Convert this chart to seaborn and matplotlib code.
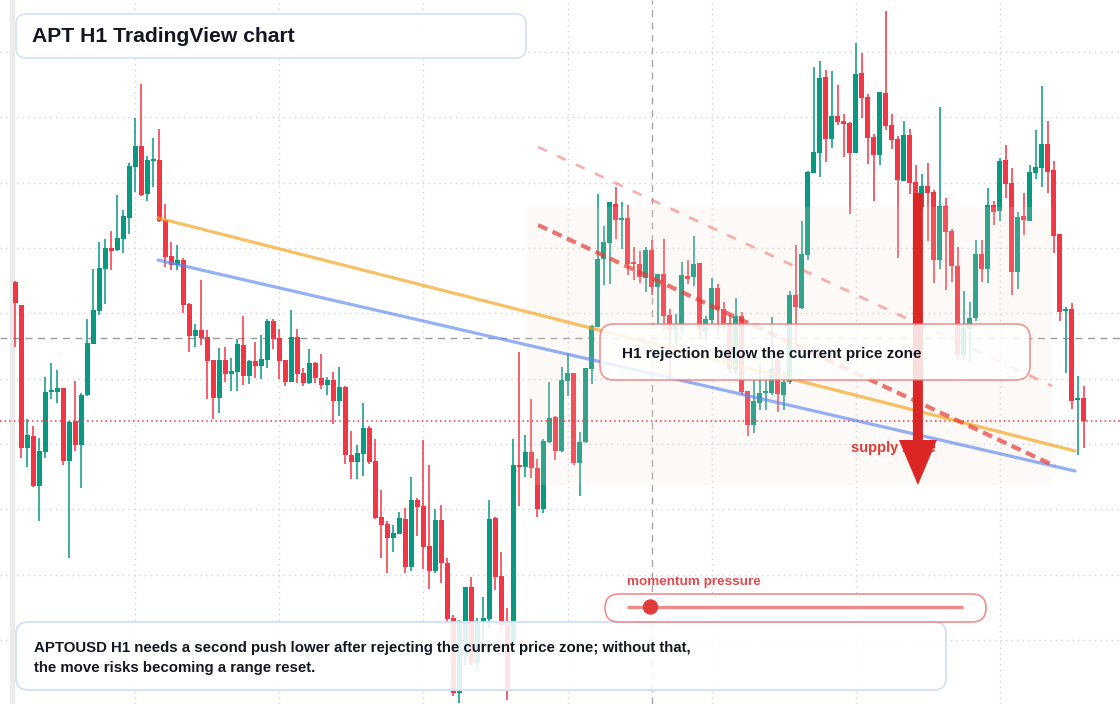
import numpy as np
import pandas as pd
import matplotlib
matplotlib.use("Agg")
import matplotlib.pyplot as plt
import seaborn as sns
from matplotlib.patches import FancyBboxPatch, FancyArrow, Rectangle, Circle

## APTOUSD hourly candles
opens = [5.18, 4.95, 3.52, 3.64, 3.14, 3.48, 4.08, 4.08, 4.12, 3.39,
         3.79, 3.55, 4.05, 4.56, 4.89, 5.31, 5.52, 5.50, 5.61, 5.82,
         6.33, 6.54, 6.06, 6.39, 6.40, 5.80, 5.44, 5.35, 5.40, 4.96,
         4.64, 4.70, 4.63, 4.40, 4.02, 4.40, 4.26, 4.28, 4.55, 4.24,
         4.39, 4.34, 4.40, 4.79, 4.62, 4.40, 4.18, 4.63, 4.27, 4.17,
         4.37, 4.22, 4.15, 4.20, 3.99, 4.13, 3.45, 3.38, 3.46, 3.72,
         3.39, 2.83, 2.76, 2.62, 2.66, 2.81, 2.33, 3.00, 2.94, 2.54,
         2.29, 2.80, 2.37, 1.82, 1.07, 1.43, 2.13, 1.37, 1.77, 1.81,
         2.82, 2.24, 1.75, 1.57, 3.35, 3.33, 3.48, 3.32, 2.91, 3.58,
         3.83, 3.49, 4.19, 4.27, 3.37, 3.58, 4.31, 4.73, 5.41, 5.57,
         5.96, 5.80, 5.82, 5.37, 5.36, 5.22, 5.50, 5.13, 5.26, 4.85,
         4.70, 4.74, 5.24, 5.23, 5.37, 4.69, 4.80, 5.12, 4.91, 4.77,
         4.30, 4.84, 4.09, 3.75, 3.97, 4.07, 4.07, 4.40, 4.05, 4.18,
         5.05, 4.92, 5.45, 6.27, 6.47, 7.23, 6.61, 6.84, 6.79, 6.77,
         6.47, 7.27, 7.03, 6.63, 6.45, 7.07, 6.75, 6.61, 6.19, 6.65,
         6.18, 5.93, 6.14, 6.08, 5.40, 5.94, 5.69, 5.34, 4.45, 4.71,
         4.82, 5.46, 5.31, 5.95, 5.89, 6.40, 6.17, 5.28, 5.84, 5.79,
         6.27, 6.32, 6.56, 6.30, 5.66, 4.89, 4.91, 4.00, 4.02]
highs = [5.19, 4.95, 3.81, 3.74, 3.62, 4.23, 4.37, 4.30, 4.12, 3.79,
         4.19, 4.07, 4.81, 5.31, 5.58, 5.61, 5.69, 6.05, 5.90, 6.37,
         6.82, 7.16, 6.44, 6.62, 6.71, 5.96, 5.58, 5.55, 5.42, 4.97,
         4.76, 5.20, 4.70, 4.40, 4.52, 4.53, 4.42, 4.61, 4.84, 4.40,
         4.58, 4.65, 4.81, 4.81, 4.71, 4.40, 4.90, 4.71, 4.32, 4.51,
         4.38, 4.46, 4.23, 4.28, 4.33, 4.14, 3.69, 3.55, 3.97, 3.74,
         3.61, 3.10, 2.79, 2.75, 2.88, 2.92, 3.23, 3.02, 3.60, 3.35,
         2.91, 2.95, 2.42, 1.85, 1.80, 2.13, 2.23, 1.82, 2.03, 3.00,
         2.83, 2.48, 1.92, 3.61, 4.48, 3.65, 4.01, 3.41, 3.61, 4.18,
         3.84, 4.33, 4.47, 4.27, 3.68, 4.32, 4.75, 6.06, 5.74, 5.98,
         6.13, 5.98, 5.95, 5.53, 5.49, 5.53, 5.60, 5.26, 5.61, 4.91,
         4.86, 5.38, 5.40, 5.64, 5.37, 4.84, 5.22, 5.16, 4.98, 4.85,
         5.02, 4.88, 4.09, 4.20, 4.37, 4.20, 4.83, 4.42, 4.28, 5.09,
         5.55, 5.79, 6.29, 7.33, 7.39, 7.30, 7.29, 7.15, 6.86, 6.78,
         7.57, 7.47, 7.06, 6.66, 7.08, 7.89, 6.86, 6.64, 6.79, 6.71,
         6.35, 6.26, 6.37, 6.10, 6.93, 6.02, 5.71, 5.53, 5.09, 4.98,
         5.60, 5.60, 6.12, 5.99, 6.42, 6.55, 6.32, 5.88, 6.07, 6.35,
         6.70, 7.14, 6.79, 6.39, 5.66, 4.93, 4.97, 4.24, 4.14]
lows = [4.53, 3.42, 3.33, 3.13, 2.79, 3.42, 4.01, 3.97, 3.35, 2.42,
        3.49, 3.12, 4.04, 4.56, 4.85, 4.96, 5.30, 5.49, 5.47, 5.66,
        6.08, 6.04, 5.99, 6.13, 5.78, 5.33, 5.30, 5.30, 4.87, 4.48,
        4.53, 4.55, 4.01, 3.81, 3.87, 4.18, 4.09, 4.09, 4.15, 4.16,
        4.22, 4.21, 4.32, 4.51, 4.21, 4.14, 4.18, 4.17, 4.14, 4.16,
        4.17, 4.11, 4.05, 3.76, 3.84, 3.36, 3.21, 3.21, 3.24, 3.36,
        2.81, 2.42, 2.27, 2.48, 2.66, 2.27, 2.29, 2.64, 2.31, 2.11,
        2.27, 2.17, 1.78, 1.04, 0.97, 1.35, 1.35, 1.30, 1.60, 1.72,
        2.10, 1.67, 1.00, 1.55, 2.94, 3.23, 3.22, 2.83, 2.87, 3.57,
        3.40, 3.48, 4.04, 3.35, 3.04, 3.57, 4.16, 4.73, 5.15, 5.16,
        5.61, 5.51, 5.25, 5.20, 5.17, 5.08, 5.05, 4.76, 4.70, 4.20,
        4.54, 4.67, 5.16, 5.14, 4.61, 4.60, 4.76, 4.65, 4.70, 4.27,
        4.25, 4.05, 3.64, 3.67, 3.90, 3.90, 4.05, 3.88, 3.90, 4.16,
        4.53, 4.91, 5.40, 6.27, 6.23, 6.38, 6.52, 6.75, 6.43, 5.86,
        6.47, 6.82, 6.36, 5.99, 6.35, 6.70, 6.51, 5.42, 6.19, 6.06,
        5.90, 5.90, 5.59, 5.17, 5.31, 5.10, 5.18, 4.40, 4.40, 4.38,
        4.79, 5.18, 5.17, 5.75, 5.79, 6.02, 5.05, 5.11, 5.65, 5.79,
        6.21, 6.13, 6.07, 5.47, 4.79, 4.27, 3.91, 3.45, 3.52]
closes = [4.97, 3.52, 3.65, 3.14, 3.49, 4.08, 4.09, 4.12, 3.39, 3.78,
          3.55, 4.05, 4.57, 4.90, 5.32, 5.52, 5.49, 5.62, 5.84, 6.34,
          6.54, 6.05, 6.40, 6.41, 5.79, 5.43, 5.35, 5.40, 4.95, 4.64,
          4.70, 4.62, 4.39, 4.02, 4.40, 4.26, 4.29, 4.56, 4.24, 4.39,
          4.34, 4.41, 4.79, 4.61, 4.39, 4.18, 4.63, 4.26, 4.17, 4.37,
          4.22, 4.15, 4.20, 3.99, 4.13, 3.45, 3.38, 3.47, 3.72, 3.38,
          2.82, 2.75, 2.62, 2.67, 2.82, 2.33, 3.00, 2.93, 2.53, 2.29,
          2.80, 2.37, 1.81, 1.07, 1.79, 2.13, 1.37, 1.77, 1.82, 2.81,
          2.23, 1.75, 1.10, 3.35, 3.33, 3.48, 3.32, 2.91, 3.59, 3.82,
          3.49, 4.20, 4.27, 3.37, 3.58, 4.32, 4.74, 5.41, 5.58, 5.98,
          5.80, 5.81, 5.36, 5.36, 5.23, 5.50, 5.13, 5.26, 4.84, 4.70,
          4.74, 5.25, 5.21, 5.36, 4.70, 4.81, 5.12, 4.91, 4.76, 4.31,
          4.84, 4.08, 3.75, 3.99, 4.07, 4.08, 4.31, 4.06, 4.18, 5.05,
          4.93, 5.46, 6.28, 6.48, 7.22, 6.61, 6.84, 6.78, 6.76, 6.47,
          7.26, 7.02, 6.62, 6.45, 7.08, 6.74, 6.60, 6.20, 6.65, 6.17,
          5.93, 6.14, 6.07, 5.40, 5.94, 5.68, 5.34, 4.45, 4.72, 4.82,
          5.46, 5.31, 5.95, 5.88, 6.39, 6.16, 5.28, 5.83, 5.80, 6.28,
          6.33, 6.56, 6.28, 5.64, 4.88, 4.91, 3.99, 4.02, 3.79]

## levels and drawings (bar index, price)
grid_prices = [1.60, 2.254, 2.907, 3.56, 4.214, 4.867, 5.52, 6.174, 6.827, 7.48]
grid_bars = [20, 44, 68, 92, 116, 140, 164]
cross_bar = 106
cross_price = 4.62
orange_line = ([23.75, 176.6], [5.82, 3.49])
blue_line = ([23.75, 176.6], [5.40, 3.29])
red_dash = ([87.1, 173.25], [5.75, 3.34])
light_dash = ([87.1, 172.75], [6.53, 4.14])
zone_bars = (85.25, 172.75)
zone_prices = (3.15, 5.93)
arrow_bar = 150.4
arrow_from, arrow_to = 6.07, 3.15
momentum = 0.07

df = pd.DataFrame({"open": opens, "high": highs, "low": lows, "close": closes})
df["bar"] = np.arange(len(df))
df["up"] = df.close >= df.open

UP, DOWN = "#089981", "#f23645"
W, H = 1120, 704

sns.set_theme(style="white")
plt.rcParams["font.family"] = ["Liberation Sans", "DejaVu Sans"]

fig = plt.figure(figsize=(W / 100, H / 100), dpi=100)
px = fig.add_axes([0, 0, 1, 1])   # pixel space for layout boxes
px.set_xlim(0, W)
px.set_ylim(H, 0)
px.set_axis_off()
ax = fig.add_axes([0, 0, 1, 1])
ax.set_zorder(2)
ax.set_xlim(-2.583, 184.083)
ax.set_ylim(0.96, 8.0)
ax.set_axis_off()
ax.patch.set_facecolor("white")
ax.patch.set_visible(True)

# grid
for p in grid_prices:
    ax.axhline(p, color="#cfd3d9", lw=1, ls=(0, (1, 3)), zorder=0.5)
for b in grid_bars:
    ax.axvline(b, color="#cfd3d9", lw=1, ls=(0, (1, 3)), zorder=0.5)
ax.add_patch(Rectangle((10, 0), 4, H, color="#ebebeb", transform=px.transData, zorder=0.6))

# crosshair
ax.axhline(cross_price, color="#9c9c9c", lw=1, ls=(0, (5, 4)), zorder=1)
ax.axvline(cross_bar, color="#a8a8a8", lw=1, ls=(0, (5, 4)), zorder=1)

# candles
col = np.where(df.up, UP, DOWN)
ax.vlines(df.bar, df.low, df.high, colors=col, lw=1.1, zorder=2)
body_lo = df[["open", "close"]].min(axis=1)
body_h = (df.open - df.close).abs().clip(lower=0.018)
ax.bar(df.bar, body_h, bottom=body_lo, width=0.8, color=col, lw=0, zorder=2.1)

# supply zone tint
ax.add_patch(Rectangle((zone_bars[0], zone_prices[0]), zone_bars[1] - zone_bars[0],
                       zone_prices[1] - zone_prices[0], facecolor="#f8dccb",
                       alpha=0.17, lw=0, zorder=2.5))

# current price line
ax.axhline(df.close.iloc[-1], color=DOWN, lw=1.1, ls=(0, (1, 2)), zorder=3)

# trend lines
sns.lineplot(x=orange_line[0], y=orange_line[1], ax=ax, color="#f5a623", alpha=0.7, lw=2.3, zorder=3)
sns.lineplot(x=blue_line[0], y=blue_line[1], ax=ax, color="#5b86f2", alpha=0.65, lw=2.3, zorder=3)
ax.plot(*red_dash, color="#e53935", alpha=0.7, lw=3, ls=(0, (2.4, 1.4)), zorder=3)
ax.plot(*light_dash, color="#ef5350", alpha=0.45, lw=2, ls=(0, (3.5, 4)), zorder=3)

# supply zone label + arrow
ax.text(851, 448, "supply zone", transform=px.transData, fontsize=10.5,
        fontweight="bold", color="#e53935", va="center", zorder=4)
ax.add_patch(FancyArrow(arrow_bar, arrow_from, 0, arrow_to - arrow_from, width=10 / 6,
                        head_width=38 / 6, head_length=0.45, length_includes_head=True,
                        color="#dc2626", lw=0, zorder=4.5))

# annotation boxes
def box(x, y, w, h, edge, r, alpha=0.88, lw=1.2):
    ax.add_patch(FancyBboxPatch((x, y), w, h, boxstyle=f"round,pad=0,rounding_size={r}",
                                facecolor=(1, 1, 1, alpha), edgecolor=edge, lw=lw,
                                transform=px.transData, zorder=5))

DARK = "#131722"
box(16, 14, 510, 44, "#d3e2f7", 10, alpha=0.95)
ax.text(32, 36, "APT H1 TradingView chart", transform=px.transData, fontsize=15.2,
        fontweight="bold", color=DARK, va="center", zorder=6)

box(600, 324, 430, 56, (0.92, 0.45, 0.45, 0.75), 14, alpha=0.85)
ax.text(622, 354, "H1 rejection below the current price zone", transform=px.transData,
        fontsize=11, fontweight="bold", color=DARK, va="center", zorder=6)

box(16, 622, 930, 68, "#d3e2f7", 12, alpha=0.88, lw=1.4)
ax.text(34, 648, "APTOUSD H1 needs a second push lower after rejecting the current price zone; without that,",
        transform=px.transData, fontsize=10.8, fontweight="bold", color=DARK, va="center", zorder=6)
ax.text(34, 668, "the move risks becoming a range reset.", transform=px.transData,
        fontsize=10.8, fontweight="bold", color=DARK, va="center", zorder=6)

# momentum slider
ax.text(627, 582, "momentum pressure", transform=px.transData, fontsize=9.7,
        fontweight="bold", color="#e5484d", va="center", zorder=6)
box(605, 594, 381, 28, (0.92, 0.45, 0.45, 0.8), 14, alpha=0.9)
ax.plot([627, 963], [607, 607], color="#f08a8a", lw=2.4, solid_capstyle="butt",
        transform=px.transData, zorder=6)
ax.add_patch(Circle((627 + momentum * (963 - 627), 607), 7, color="#e03c3c",
                    transform=px.transData, zorder=7))

fig.savefig("out.png", dpi=100)
